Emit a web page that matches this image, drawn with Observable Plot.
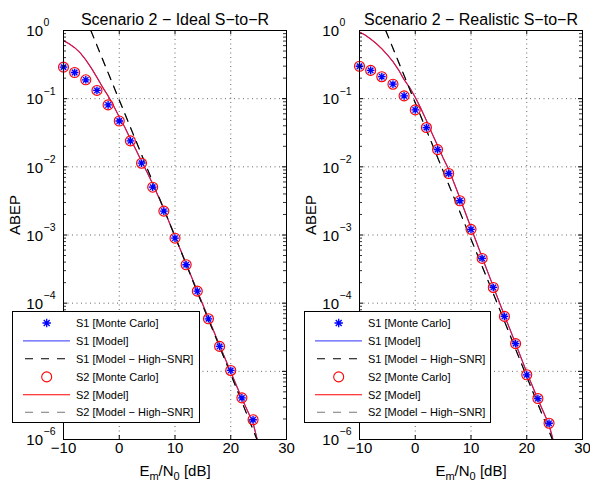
<!DOCTYPE html>
<html><head><meta charset="utf-8">
<script src="https://cdn.jsdelivr.net/npm/d3@7"></script>
<script src="https://cdn.jsdelivr.net/npm/@observablehq/plot@0.6"></script>
<style>
body{margin:0;background:#fff;font-family:"Liberation Sans",Arial,Helvetica,sans-serif;}
#wrap{position:relative;width:590px;height:489px;overflow:hidden;}
.panel{position:absolute;top:0;}
.legend{position:absolute;}
</style></head>
<body><div id="wrap"></div>
<script>
// ---------- data ----------
const snrMC = [-10,-8,-6,-4,-2,0,2,4,6,8,10,12,14,16,18,20,22,24];

const idealS1MonteCarlo = [0.29,0.242,0.189,0.132,0.081,0.047,0.024,0.0113,0.00503,0.00224,8.98e-4,3.66e-4,1.5e-4,5.9e-5,2.32e-5,1.03e-5,4.08e-6,1.95e-6];
const idealS2MonteCarlo = [0.29,0.242,0.189,0.132,0.081,0.047,0.024,0.0113,0.00503,0.00224,8.98e-4,3.66e-4,1.5e-4,5.9e-5,2.32e-5,1.03e-5,4.08e-6,1.95e-6];
const idealModelSNR = [-10,-9,-8,-7,-6,-5,-4,-3,-2,-1,0,1,2,3,4,5,6,7,8,10,12,14,16,18,20,22,24,24.75];
const idealS1Model = [0.71,0.64,0.56,0.47,0.37,0.28,0.205,0.148,0.11,0.078,0.054,0.038,0.0257,0.0178,0.012,0.0083,0.0056,0.0037,0.0024,9.5e-4,3.8e-4,1.5e-4,6e-5,2.4e-5,9.8e-6,4e-6,1.75e-6,1e-6];
const idealS2Model = [0.71,0.64,0.56,0.47,0.37,0.28,0.205,0.148,0.11,0.078,0.054,0.038,0.0257,0.0178,0.012,0.0083,0.0056,0.0037,0.0024,9.5e-4,3.8e-4,1.5e-4,6e-5,2.4e-5,9.8e-6,4e-6,1.75e-6,1e-6];
const idealHighSNR_SNR = [-5.1,-0.1,4.9,9.9,14.8,19.8,24.7];
const idealS1HighSNR = [1,0.1,0.01,1e-3,1e-4,1e-5,1e-6];
const idealS2HighSNR = [1,0.1,0.01,1e-3,1e-4,1e-5,1e-6];

const realS1MonteCarlo = [0.299,0.26,0.21,0.163,0.11,0.0684,0.0377,0.0179,0.00798,0.00318,0.00121,4.53e-4,1.7e-4,6.4e-5,2.55e-5,8.9e-6,3.99e-6,1.73e-6];
const realS2MonteCarlo = [0.299,0.26,0.21,0.163,0.11,0.0684,0.0377,0.0179,0.00798,0.00318,0.00121,4.53e-4,1.7e-4,6.4e-5,2.55e-5,8.9e-6,3.99e-6,1.73e-6];
const realModelSNR = [-10,-9,-8,-7,-6,-5,-4,-3,-2,-1,0,1,2,3,4,5,6,7,8,10,12,14,16,18,20,22,24,24.7];
const realS1Model = [0.95,0.86,0.75,0.645,0.54,0.44,0.35,0.265,0.19,0.145,0.105,0.072,0.048,0.031,0.0205,0.0135,0.0092,0.0057,0.0035,0.00128,4.7e-4,1.75e-4,6.6e-5,2.55e-5,9.6e-6,3.9e-6,1.65e-6,1e-6];
const realS2Model = [0.95,0.86,0.75,0.645,0.54,0.44,0.35,0.265,0.19,0.145,0.105,0.072,0.048,0.031,0.0205,0.0135,0.0092,0.0057,0.0035,0.00128,4.7e-4,1.75e-4,6.6e-5,2.55e-5,9.6e-6,3.9e-6,1.65e-6,1e-6];
const realHighSNR_SNR = [-5.3,-0.3,4.7,9.7,14.7,19.6,24.6];
const realS1HighSNR = [1,0.1,0.01,1e-3,1e-4,1e-5,1e-6];
const realS2HighSNR = [1,0.1,0.01,1e-3,1e-4,1e-5,1e-6];

const xTicks = [-10,0,10,20,30];
const xTickLabels = ["\u221210","0","10","20","30"];
const xGrid = [0,10,20];
const yTicks = [1e-6,1e-5,1e-4,1e-3,1e-2,1e-1,1];
const yTickExponents = ["\u22126","\u22125","\u22124","\u22123","\u22122","\u22121","0"];
const yGrid = [1e-5,1e-4,1e-3,1e-2,1e-1];
const titles = ["Scenario 2 \u2212 Ideal S\u2212to\u2212R","Scenario 2 \u2212 Realistic S\u2212to\u2212R"];
const yLabel = "ABEP";
const xLabel = "Em/N0 [dB]";
const legendLabels = ["S1 [Monte Carlo]","S1 [Model]","S1 [Model \u2212 High\u2212SNR]","S2 [Monte Carlo]","S2 [Model]","S2 [Model \u2212 High\u2212SNR]"];

// ---------- helpers ----------
const minorTicks = [];
for (const d of yTicks.slice(0, -1)) for (let k = 2; k <= 9; k++) minorTicks.push(k * d);

const asterisk8 = {
  draw(ctx, size) {
    const r = Math.sqrt(size / Math.PI), d = r * Math.SQRT1_2;
    ctx.moveTo(-r, 0); ctx.lineTo(r, 0);
    ctx.moveTo(0, -r); ctx.lineTo(0, r);
    ctx.moveTo(-d, -d); ctx.lineTo(d, d);
    ctx.moveTo(-d, d); ctx.lineTo(d, -d);
  }
};

const FONT = "'Liberation Sans', Arial, Helvetica, sans-serif";
const DASH = "8,7";

function panel(p) {
  const width = 295, height = 489, mt = 30, mb = 50;
  const W = width - p.ml - p.mr, H = height - mt - mb;
  const mc = p.mcSNR.map((x, i) => ({x, s1: p.s1mc[i], s2: p.s2mc[i]}));
  const model = p.modelSNR.map((x, i) => ({x, s1: p.s1model[i], s2: p.s2model[i]}));
  const hs = p.hsSNR.map((x, i) => ({x, s1: p.s1hs[i], s2: p.s2hs[i]}));
  const svg = Plot.plot({
    width, height, marginTop: mt, marginBottom: mb, marginLeft: p.ml, marginRight: p.mr,
    x: {domain: [-10, 30], axis: null},
    y: {type: "log", domain: [1e-6, 1], axis: null},
    style: {fontFamily: FONT, fontSize: "15px", background: "transparent", color: "#000"},
    marks: [
      Plot.ruleX(xGrid, {x: d => d, stroke: "#000", strokeOpacity: 0.75, strokeWidth: 0.8, strokeDasharray: "1,3.5"}),
      Plot.ruleY(yGrid, {y: d => d, stroke: "#000", strokeOpacity: 0.75, strokeWidth: 0.8, strokeDasharray: "1,3.5"}),
      Plot.line(model, {x: "x", y: "s1", stroke: "#0000ff", strokeWidth: 0.7, clip: true}),
      Plot.line(model, {x: "x", y: "s2", stroke: "#dc1240", strokeWidth: 1.2, clip: true}),
      Plot.line(hs, {x: "x", y: "s2", stroke: "#777", strokeWidth: 1.1, strokeDasharray: DASH, clip: true}),
      Plot.line(hs, {x: "x", y: "s1", stroke: "#000", strokeWidth: 1.1, strokeDasharray: DASH, clip: true}),
      Plot.dot(mc, {x: "x", y: "s2", r: 5, stroke: "#ff0000", strokeWidth: 1.1, fill: "#b9b4ff", fillOpacity: 0.45}),
      Plot.dot(mc, {x: "x", y: "s1", r: 3.8, symbol: asterisk8, stroke: "#0000ff", strokeWidth: 1.3, fill: "none"}),
      // inward ticks
      Plot.tickX(xTicks, {x: d => d, insetTop: H - 4, stroke: "#000"}),
      Plot.tickX(xTicks, {x: d => d, insetBottom: H - 4, stroke: "#000"}),
      Plot.tickY(yTicks, {y: d => d, insetRight: W - 4, stroke: "#000"}),
      Plot.tickY(yTicks, {y: d => d, insetLeft: W - 4, stroke: "#000"}),
      Plot.tickY(minorTicks, {y: d => d, insetRight: W - 3, stroke: "#000", strokeWidth: 0.8}),
      Plot.tickY(minorTicks, {y: d => d, insetLeft: W - 3, stroke: "#000", strokeWidth: 0.8}),
      Plot.frame({stroke: "#000", strokeWidth: 1}),
      // tick labels
      Plot.text(xTicks, {x: d => d, text: (d, i) => xTickLabels[i], frameAnchor: "bottom", dy: 13, fontSize: 15, fill: "#000"}),
      Plot.text(yTicks, {y: d => d, text: () => "10", frameAnchor: "left", textAnchor: "end", dx: -20.5, dy: 1, fontSize: 15, fill: "#000"}),
      Plot.text(yTicks, {y: d => d, text: (d, i) => yTickExponents[i], frameAnchor: "left", textAnchor: "start", dx: -20, dy: -7.5, fontSize: 10.5, fill: "#000"}),
      // titles / labels
      Plot.text([p.title], {text: d => d, frameAnchor: "top", dy: -17, fontSize: 16, fill: "#000"}),
      Plot.text([yLabel], {text: d => d, frameAnchor: "left", rotate: -90, dx: -48, fontSize: 15, fill: "#000"}),
      Plot.text([xLabel], {text: d => d, frameAnchor: "bottom", dy: 36, fontSize: 15, fill: "#000"})
    ]
  });
  // subscripts in x label
  d3.select(svg).selectAll("text").filter(function () { return this.textContent === xLabel; }).each(function () {
    const t = d3.select(this);
    t.text(null);
    t.append("tspan").text("E");
    t.append("tspan").attr("font-size", 11).attr("dy", 4).text("m");
    t.append("tspan").attr("dy", -4).text("/N");
    t.append("tspan").attr("font-size", 11).attr("dy", 4).text("0");
    t.append("tspan").attr("dy", -4).text(" [dB]");
  });
  return svg;
}

function legend(left, top, w, h) {
  const div = document.createElement("div");
  div.className = "legend";
  div.style.left = left + "px"; div.style.top = top + "px";
  const s = d3.select(div).append("svg").attr("width", w).attr("height", h)
    .style("font-family", FONT).style("font-size", "11px");
  s.append("rect").attr("x", 0.5).attr("y", 0.5).attr("width", w - 1).attr("height", h - 1)
    .attr("fill", "#fff").attr("stroke", "#000");
  const rows = [12, 29.8, 47.7, 65.9, 83.7, 101.2];
  const x0 = 11, x1 = 58, xm = 34.7, xt = 64;
  const a = s.append("g").attr("transform", `translate(${xm},${rows[0]})`);
  const r = 4.2, d = r * Math.SQRT1_2;
  a.append("path").attr("d", `M${-r},0L${r},0M0,${-r}L0,${r}M${-d},${-d}L${d},${d}M${-d},${d}L${d},${-d}`)
    .attr("stroke", "#0000ff").attr("stroke-width", 1.3).attr("fill", "none");
  s.append("line").attr("x1", x0).attr("x2", x1).attr("y1", rows[1]).attr("y2", rows[1]).attr("stroke", "#5a5aff").attr("stroke-width", 1.2);
  s.append("line").attr("x1", x0).attr("x2", x1).attr("y1", rows[2]).attr("y2", rows[2]).attr("stroke", "#000").attr("stroke-width", 1.1).attr("stroke-dasharray", "8,8").attr("stroke-dashoffset", -2);
  s.append("circle").attr("cx", xm).attr("cy", rows[3]).attr("r", 5).attr("stroke", "#ff0000").attr("fill", "none").attr("stroke-width", 1.1);
  s.append("line").attr("x1", x0).attr("x2", x1).attr("y1", rows[4]).attr("y2", rows[4]).attr("stroke", "#ff0000").attr("stroke-width", 1.1);
  s.append("line").attr("x1", x0).attr("x2", x1).attr("y1", rows[5]).attr("y2", rows[5]).attr("stroke", "#777").attr("stroke-width", 1.1).attr("stroke-dasharray", "8,8").attr("stroke-dashoffset", -2);
  legendLabels.forEach((lab, i) => {
    s.append("text").attr("x", xt).attr("y", rows[i]).attr("dy", "0.35em").attr("fill", "#000").text(lab);
  });
  return div;
}

const wrap = document.getElementById("wrap");
const left = document.createElement("div"); left.className = "panel"; left.style.left = "0px";
left.appendChild(panel({title: titles[0], mcSNR: snrMC, s1mc: idealS1MonteCarlo, s2mc: idealS2MonteCarlo,
  modelSNR: idealModelSNR, s1model: idealS1Model, s2model: idealS2Model,
  hsSNR: idealHighSNR_SNR, s1hs: idealS1HighSNR, s2hs: idealS2HighSNR, ml: 63, mr: 9}));
const right = document.createElement("div"); right.className = "panel"; right.style.left = "295px";
right.appendChild(panel({title: titles[1], mcSNR: snrMC, s1mc: realS1MonteCarlo, s2mc: realS2MonteCarlo,
  modelSNR: realModelSNR, s1model: realS1Model, s2model: realS2Model,
  hsSNR: realHighSNR_SNR, s1hs: realS1HighSNR, s2hs: realS2HighSNR, ml: 64, mr: 8}));
wrap.appendChild(left);
wrap.appendChild(right);
wrap.appendChild(legend(12, 311, 188, 112));
wrap.appendChild(legend(304, 311, 187, 112));
</script>
</body></html>
